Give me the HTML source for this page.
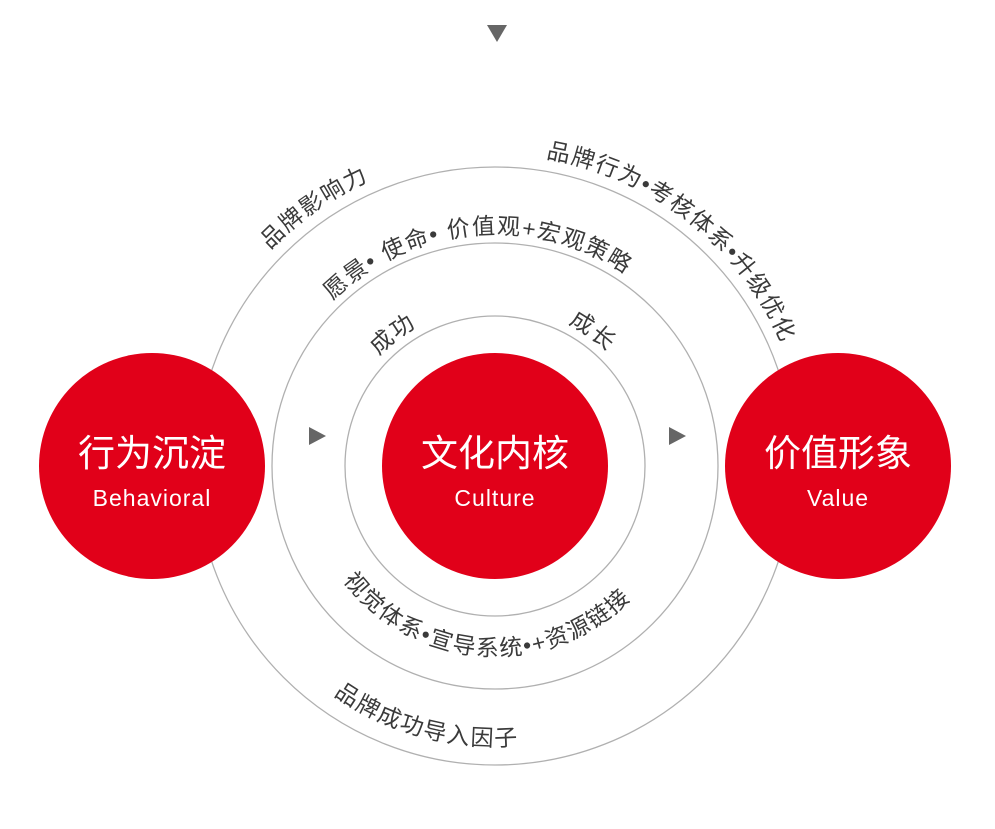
<!DOCTYPE html>
<html><head><meta charset="utf-8"><style>
html,body{margin:0;padding:0;background:#fff;}
svg{display:block;}
.t{font-family:"Liberation Sans","Noto Sans CJK SC",sans-serif;font-size:23px;fill:#3a3a3a;letter-spacing:1.5px;}
.w{font-family:"Liberation Sans","Noto Sans CJK SC",sans-serif;fill:#fff;text-anchor:middle;}
</style></head><body>
<svg width="995" height="829" viewBox="0 0 995 829" xmlns="http://www.w3.org/2000/svg">
<defs>
<path id="o1" d="M495,778 A312,312 0 1 1 495,154 A312,312 0 1 1 495,778"/>
<path id="m1" d="M495,698 A232,232 0 1 1 495,234 A232,232 0 1 1 495,698"/>
<path id="i1" d="M495,626 A160,160 0 1 1 495,306 A160,160 0 1 1 495,626"/>
<path id="b1" d="M495,276 A190,190 0 1 0 495,656 A190,190 0 1 0 495,276"/>
<path id="b2" d="M495,186 A280,280 0 1 0 495,746 A280,280 0 1 0 495,186"/>
</defs>
<polygon points="487,25 507,25 497,42" fill="#666"/>
<g fill="none" stroke="#b0b0b0" stroke-width="1.3">
<circle cx="495" cy="466" r="299"/>
<circle cx="495" cy="466" r="223"/>
<circle cx="495" cy="466" r="150"/>
</g>
<polygon points="309,427 309,445 326,436" fill="#666"/>
<polygon points="669,427 669,445 686,436" fill="#666"/>
<text class="t" text-anchor="middle"><textPath href="#o1" startOffset="40.3%">品牌影响力</textPath></text>
<text class="t" text-anchor="middle"><textPath href="#o1" startOffset="60.6%">品牌行为•考核体系•升级优化</textPath></text>
<text class="t" text-anchor="middle"><textPath href="#m1" startOffset="48.6%">愿景• 使命• 价值观+宏观策略</textPath></text>
<text class="t" text-anchor="middle"><textPath href="#i1" startOffset="39.5%">成功</textPath></text>
<text class="t" text-anchor="middle"><textPath href="#i1" startOffset="60%">成长</textPath></text>
<text class="t" text-anchor="middle"><textPath href="#b1" startOffset="49%">视觉体系•宣导系统•+资源链接</textPath></text>
<text class="t" text-anchor="middle"><textPath href="#b2" startOffset="45.8%">品牌成功导入因子</textPath></text>
<g fill="#e10019">
<circle cx="152" cy="466" r="113"/>
<circle cx="495" cy="466" r="113"/>
<circle cx="838" cy="466" r="113"/>
</g>
<text class="w" x="152" y="466" font-size="37">行为沉淀</text>
<text class="w" x="152" y="506" font-size="23" letter-spacing="1">Behavioral</text>
<text class="w" x="495" y="466" font-size="37">文化内核</text>
<text class="w" x="495" y="506" font-size="23" letter-spacing="1">Culture</text>
<text class="w" x="838" y="466" font-size="37">价值形象</text>
<text class="w" x="838" y="506" font-size="23" letter-spacing="1">Value</text>
</svg>
</body></html>
